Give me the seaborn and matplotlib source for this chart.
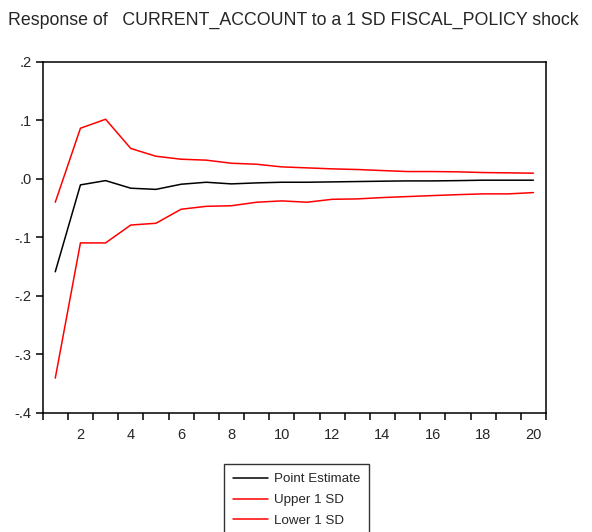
import numpy as np
import pandas as pd
import matplotlib
matplotlib.use("Agg")
import matplotlib.pyplot as plt
from matplotlib.ticker import FixedLocator, FuncFormatter, NullFormatter
import seaborn as sns

# Impulse response horizon and estimates
periods = list(range(1, 21))
point_estimate = [-0.159, -0.0103, -0.003, -0.016, -0.018, -0.0092, -0.0058, -0.0086, -0.0069, -0.0058,
                  -0.0058, -0.0052, -0.0046, -0.0040, -0.0035, -0.0035, -0.0030, -0.0023, -0.0023, -0.0023]
upper_1sd = [-0.040, 0.0866, 0.102, 0.052, 0.0387, 0.0336, 0.032, 0.0267, 0.025, 0.0205,
             0.0188, 0.0171, 0.016, 0.0142, 0.0125, 0.0125, 0.012, 0.0108, 0.0103, 0.0097]
lower_1sd = [-0.341, -0.1096, -0.1096, -0.079, -0.076, -0.052, -0.047, -0.046, -0.040, -0.0377,
             -0.040, -0.035, -0.0343, -0.032, -0.0303, -0.0286, -0.027, -0.0257, -0.0257, -0.0235]
series_names = ["Point Estimate", "Upper 1 SD", "Lower 1 SD"]
series_colors = ["#000000", "#ff0000", "#ff0000"]
y_ticks = [0.2, 0.1, 0.0, -0.1, -0.2, -0.3, -0.4]
x_labels = list(range(2, 21, 2))

df = pd.DataFrame({
    "period": periods * 3,
    "value": point_estimate + upper_1sd + lower_1sd,
    "series": [series_names[0]] * 20 + [series_names[1]] * 20 + [series_names[2]] * 20,
})

sns.set_style("white")
plt.rcParams["font.family"] = ["Liberation Sans", "DejaVu Sans"]

fig = plt.figure(figsize=(5.92, 5.32), dpi=100)
ax = fig.add_axes([0.0721, 0.2244, 0.8502, 0.6591])

sns.lineplot(data=df, x="period", y="value", hue="series", hue_order=series_names,
             palette=series_colors, linewidth=1.1, ax=ax, legend=False)

ax.set_xlim(0.5, 20.5)
ax.set_ylim(-0.4, 0.2)

# Ticks at period boundaries, labels centred on even periods
ax.xaxis.set_major_locator(FixedLocator(np.arange(0.5, 21, 1.0)))
ax.xaxis.set_major_formatter(NullFormatter())
ax.xaxis.set_minor_locator(FixedLocator(x_labels))
ax.xaxis.set_minor_formatter(FuncFormatter(lambda v, p: f"{int(round(v))}"))
ax.tick_params(axis="x", which="major", direction="out", length=5, width=1.1, color="black", bottom=True)
ax.tick_params(axis="x", which="minor", length=0, pad=11, labelsize=10.5, bottom=True)

def fmt_y(v, p):
    s = f"{v:.1f}"
    return s.replace("0.", ".")

ax.yaxis.set_major_locator(FixedLocator(y_ticks))
ax.yaxis.set_major_formatter(FuncFormatter(fmt_y))
ax.tick_params(axis="y", which="major", direction="out", length=5, width=1.1, color="black",
               left=True, labelsize=10.5, pad=3)
ax.set_xlabel("")
ax.set_ylabel("")
for sp in ax.spines.values():
    sp.set_visible(True)
    sp.set_color("black")
    sp.set_linewidth(1.1)

fig.text(8 / 592, 1 - 20 / 532, "Response of   CURRENT_ACCOUNT to a 1 SD FISCAL_POLICY shock",
         fontsize=12.8, ha="left", va="center")

handles = [plt.Line2D([], [], color=c, linewidth=1.1) for c in series_colors]
leg = fig.legend(handles, series_names, loc="upper left",
                 bbox_to_anchor=(224 / 592, 1 - 464 / 532), fontsize=9.6,
                 frameon=True, fancybox=False, edgecolor="black", handlelength=2.6,
                 handletextpad=0.45, labelspacing=0.64, borderpad=0.68, borderaxespad=0)
leg.get_frame().set_linewidth(1.0)

fig.savefig("out.png", dpi=100, facecolor="white")
